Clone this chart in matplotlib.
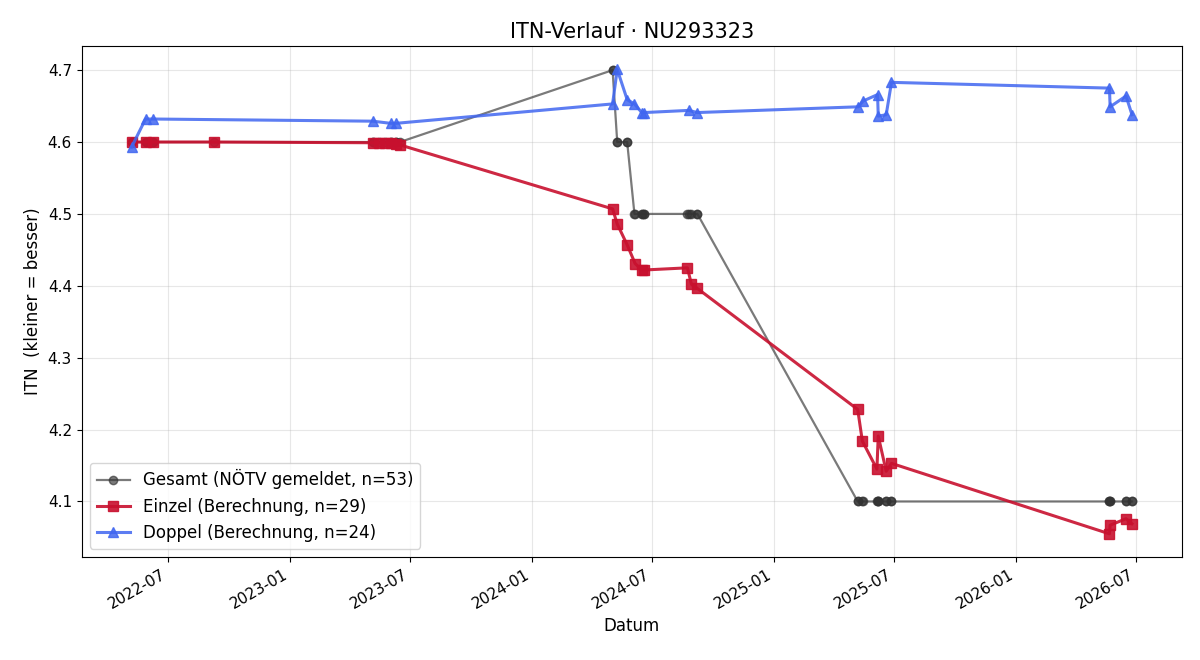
import numpy as np
import pandas as pd
import matplotlib
matplotlib.use("Agg")
import matplotlib.pyplot as plt
import matplotlib.dates as mdates

# Einzel (Berechnung)
einzel_dates = [
    "2022-05-07", "2022-05-28", "2022-06-09", "2022-09-09",
    "2023-05-06", "2023-05-15", "2023-05-24", "2023-06-02", "2023-06-10", "2023-06-16",
    "2024-05-02", "2024-05-09", "2024-05-24", "2024-06-05", "2024-06-15", "2024-06-19",
    "2024-08-23", "2024-08-29", "2024-09-06",
    "2025-05-07", "2025-05-14", "2025-06-05", "2025-06-07", "2025-06-19", "2025-06-27",
    "2026-05-22", "2026-05-23", "2026-06-16", "2026-06-25",
]
einzel_values = [
    4.600, 4.600, 4.600, 4.600,
    4.599, 4.599, 4.599, 4.598, 4.597, 4.596,
    4.507, 4.486, 4.457, 4.431, 4.422, 4.422,
    4.425, 4.402, 4.397,
    4.228, 4.184, 4.145, 4.191, 4.142, 4.153,
    4.055, 4.067, 4.076, 4.069,
]

# Doppel (Berechnung)
doppel_dates = [
    "2022-05-07", "2022-05-28", "2022-06-09",
    "2023-05-06", "2023-06-02", "2023-06-10",
    "2024-05-02", "2024-05-09", "2024-05-24", "2024-06-04", "2024-06-15", "2024-06-19",
    "2024-08-25", "2024-09-07",
    "2025-05-08", "2025-05-15", "2025-06-06", "2025-06-07", "2025-06-19", "2025-06-27",
    "2026-05-22", "2026-05-23", "2026-06-16", "2026-06-25",
]
doppel_values = [
    4.593, 4.632, 4.632,
    4.629, 4.626, 4.626,
    4.653, 4.701, 4.659, 4.653, 4.641, 4.641,
    4.644, 4.641,
    4.649, 4.657, 4.666, 4.636, 4.638, 4.683,
    4.675, 4.649, 4.664, 4.638,
]

# Gesamt (NÖTV gemeldet) - one value per game date (Einzel + Doppel)
gesamt_dates = sorted(einzel_dates + doppel_dates)
gesamt_values = (
    [4.6] * 7            # 2022
    + [4.6] * 9          # 2023
    + [4.7] * 2          # 2024-05-02
    + [4.6] * 4          # 2024-05-09, 2024-05-24
    + [4.5] * 6          # 2024-06
    + [4.5] * 5          # 2024-08/09
    + [4.1] * 12         # 2025
    + [4.1] * 8          # 2026
)

einzel_dates = pd.to_datetime(einzel_dates)
doppel_dates = pd.to_datetime(doppel_dates)
gesamt_dates = pd.to_datetime(gesamt_dates)

fig, ax = plt.subplots(figsize=(12, 6.6), dpi=100)

ax.plot(gesamt_dates, gesamt_values, marker="o", markersize=6, linewidth=1.6,
        color="#333333", alpha=0.65, label=f"Gesamt (NÖTV gemeldet, n={len(gesamt_values)})")
ax.plot(einzel_dates, einzel_values, marker="s", markersize=7, linewidth=2.2,
        color="#c8102e", alpha=0.9, label=f"Einzel (Berechnung, n={len(einzel_values)})")
ax.plot(doppel_dates, doppel_values, marker="^", markersize=7, linewidth=2.2,
        color="#4066f0", alpha=0.85, label=f"Doppel (Berechnung, n={len(doppel_values)})")

ax.set_title("ITN-Verlauf · NU293323", fontsize=15)
ax.set_xlabel("Datum", fontsize=12)
ax.set_ylabel("ITN  (kleiner = besser)", fontsize=12)
ax.tick_params(labelsize=11)
ax.xaxis.set_major_locator(mdates.MonthLocator(bymonth=[1, 7]))
ax.xaxis.set_major_formatter(mdates.DateFormatter("%Y-%m"))
ax.grid(True, alpha=0.3)
ax.legend(loc="lower left", fontsize=12)
fig.autofmt_xdate()
fig.subplots_adjust(left=0.068, right=0.985, top=0.93, bottom=0.156)
fig.savefig("out.png", dpi=100)
